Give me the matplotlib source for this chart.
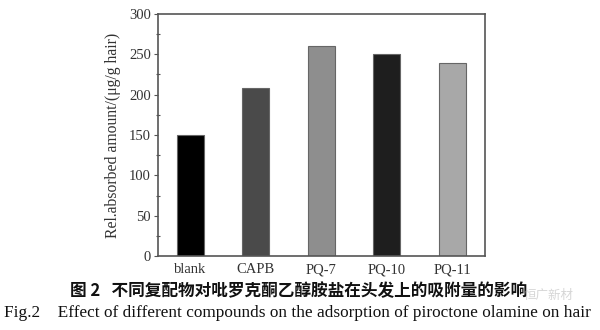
import matplotlib.pyplot as plt
import numpy as np

# 数据：不同复配物对吡罗克酮乙醇胺盐吸附量的影响
categories = ['blank', 'CAPB', 'PQ-7', 'PQ-10', 'PQ-11']
absorbed = [150, 208, 260, 250, 239]
bar_colors = ['#000000', '#4a4a4a', '#8e8e8e', '#1e1e1e', '#a8a8a8']

serif = ['Liberation Serif', 'DejaVu Serif']
cjk = ['Noto Sans CJK SC', 'DejaVu Sans']

fig = plt.figure(figsize=(6, 3.3), dpi=100)
ax = fig.add_axes([0.263, 0.224, 0.545, 0.734])

x = np.arange(1, len(categories) + 1)
ax.bar(x, absorbed, width=0.41, color=bar_colors, edgecolor='#666666', linewidth=0.8)

ax.set_xlim(0.5, 5.5)
ax.set_ylim(0, 300)
ax.set_yticks(np.arange(0, 301, 50))
ax.set_yticks(np.arange(25, 300, 50), minor=True)
ax.set_xticks(x)
ax.set_xticklabels(categories, fontfamily=serif, fontsize=10.5, color='#333333')
for lab in ax.get_yticklabels():
    lab.set_fontfamily(serif)
    lab.set_fontsize(10.5)
    lab.set_color('#333333')
ax.tick_params(axis='x', length=0, pad=5)
ax.tick_params(axis='y', which='major', direction='out', length=3, width=0.8, color='#555555', pad=2)
ax.tick_params(axis='y', which='minor', direction='inout', length=3, width=0.8, color='#555555')

for s in ax.spines.values():
    s.set_color('#555555')
    s.set_linewidth(1.2)

ax.set_ylabel('Rel.absorbed amount/(μg/g hair)', fontfamily=serif, fontsize=11.3,
              color='#333333', labelpad=6)

# 图题
fig.text(0.497, 0.118, '图 2   不同复配物对吡罗克酮乙醇胺盐在头发上的吸附量的影响',
         ha='center', va='center', fontfamily=cjk, fontsize=12, fontweight='bold',
         color='#111111')
fig.text(0.496, 0.052, 'Fig.2    Effect of different compounds on the adsorption of piroctone olamine on hair',
         ha='center', va='center', fontfamily=serif, fontsize=12.4, color='#111111')

# 水印
fig.text(0.915, 0.105, '恒广新材', ha='center', va='center', fontfamily=cjk,
         fontsize=9, color='#bbbbbb', alpha=0.6)

fig.savefig('out.png', dpi=100)
